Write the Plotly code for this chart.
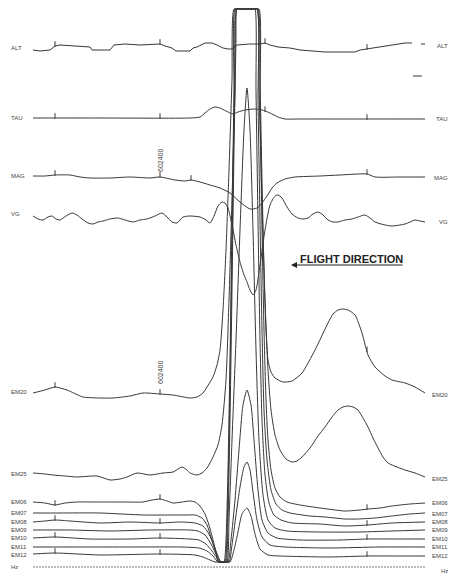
import numpy as np
import plotly.graph_objects as go

# ---------------- data (chart units) ----------------
alt_x = [33,40,50,53,55,60,75,90,92,110,114,125,140,160,165,172,176,190,193,197,205,212,217,223,228,233,235,237,250,260,265,270,278,290,300,310,325,340,355,360,367,380,395,405,412]
alt_y = [50,51,50,48,46,45,46,47,50,50,45,44,45,44,46,48,51,51,48,47,43,43,45,48,49,49,46,45,44,44,43,45,47,48,50,51,52,52,52,50,49,47,45,43,43]

tau_x = [33,100,190,200,205,210,215,220,226,233,238,245,255,262,270,278,285,300,360,425]
tau_y = [118,118,118,117,113,109,107,108,111,114,112,110,109,110,113,117,119,119,119,119]

mag_x = [33,45,55,70,80,90,110,130,150,160,175,185,191,200,210,220,230,240,250,257,262,267,272,277,285,295,320,340,367,375,400,425]
mag_y = [176,176,175,175,177,178,178,177,178,177,180,181,180,182,185,188,193,202,209,208,203,196,188,183,179,177,176,175,174,177,177,177]

vg_x = [33,38,43,48,52,56,60,66,72,77,82,88,93,98,103,110,118,125,133,140,147,155,162,167,172,177,183,190,200,206,210,214,218,222,225,228,232,236,240,244,247,250,253,256,260,265,270,275,278,282,287,292,298,303,308,313,318,323,328,333,338,345,352,358,365,370,375,385,392,400,405,410,415,420,425]
vg_y = [216,219,220,217,216,219,220,216,213,215,219,223,224,222,221,219,218,220,222,220,219,216,213,217,222,223,217,216,217,220,223,216,206,202,203,208,225,245,262,275,282,290,295,290,265,230,205,196,195,198,207,214,218,219,218,214,212,215,220,222,222,220,219,217,215,218,222,225,226,225,224,222,220,221,222]

em20_x = [33,45,55,67,83,100,113,130,143,160,173,190,197,203,207,213,217,220,223,226,229,232,234,238,242,246,250,254,258,260,262,264,266,268,271,275,283,292,302,315,328,333,338,343,348,355,362,368,375,385,392,405,415,425]
em20_y = [393,390,387,390,397,398,398,396,393,394,395,398,397,393,387,377,365,350,310,250,170,80,9,9,9,9,9,9,9,80,180,270,330,360,372,378,382,381,373,350,323,314,310,309,310,315,333,355,367,376,380,383,387,393]

em25_x = [33,45,53,65,77,97,110,120,127,137,150,163,173,182,187,190,197,202,207,213,218,222,226,229,232,235,237,241,245,249,253,257,259,262,265,268,271,275,280,286,292,297,302,310,318,325,332,338,343,348,353,358,363,368,373,378,383,388,397,405,415,425]
em25_y = [473,474,475,476,477,476,480,479,477,473,475,473,472,467,470,473,475,473,468,457,445,425,380,300,200,90,9,9,9,9,9,9,90,200,300,370,410,435,450,459,462,461,457,448,436,427,417,410,407,406,407,410,418,427,438,448,457,463,467,470,473,477]

em06_x = [33,45,55,65,77,95,110,125,143,152,160,167,173,182,190,195,200,205,209,213,216,218,221,224,226,228,230,232,234,235,239,243,247,251,255,259,260,262,264,266,268,271,275,280,287,300,320,345,360,368,380,392,410,425]
em06_y = [502,503,505,503,502,502,502,502,502,500,499,501,503,502,501,502,506,514,525,540,552,562,562,562,540,470,360,220,90,9,9,9,9,9,9,9,100,230,330,400,440,470,488,497,502,505,508,511,510,509,508,506,504,503]

em07_x = [33,60,100,143,170,187,195,202,207,211,215,219,222,225,227,229,231,233,235,236,240,244,248,252,257,258,260,262,264,267,271,276,282,290,310,325,345,358,375,392,410,425]
em07_y = [513,513,513,515,515,515,515,518,525,537,550,562,562,562,530,440,320,180,50,9,9,9,9,9,9,100,220,330,410,460,490,504,510,513,516,517,519,519,518,516,514,513]

em08_x = [33,45,55,70,100,130,160,180,195,203,209,214,218,221,224,226,228,230,232,234,236,237,241,245,249,253,255,256,258,260,262,265,269,274,281,292,320,345,368,392,425]
em08_y = [522,521,520,521,523,522,523,522,523,526,534,546,556,562,562,562,520,420,290,150,40,9,9,9,9,9,9,90,220,340,420,475,503,515,520,523,524,526,525,523,522]

em09_x = [33,70,110,150,190,198,205,211,216,220,224,227,229,232,236,240,244,247,250,253,256,259,263,268,275,287,320,360,392,425]
em09_y = [530,530,531,530,530,531,535,544,554,562,562,562,520,440,340,230,130,88,130,230,350,440,495,520,528,531,532,532,531,530]

em10_x = [33,55,90,130,160,190,199,206,212,217,221,225,228,231,235,239,243,247,251,254,258,262,268,277,300,340,368,400,425]
em10_y = [538,537,539,539,538,539,540,544,551,558,562,562,562,540,500,450,405,390,405,440,490,520,533,538,540,540,539,539,539]

em11_x = [33,80,130,180,199,207,213,218,223,229,232,236,240,244,247,250,253,257,262,270,285,330,380,425]
em11_y = [547,547,547,547,548,551,556,562,562,562,545,515,487,467,462,470,492,520,537,545,547,548,547,547]

em12_x = [33,55,100,160,195,203,210,215,220,225,230,234,238,242,247,251,255,260,268,280,330,368,400,425]
em12_y = [554,553,555,554,555,557,560,562,562,562,562,550,532,514,508,516,534,549,555,556,557,556,556,556]

hz_x = [33, 425]
hz_y = [567, 567]

fid_ticks = {
    "ALT": [55, 160, 265, 367],
    "TAU": [55, 160, 265, 367],
    "MAG": [55, 160, 191, 367],
    "EM20": [55, 160, 367],
    "EM06": [55, 160, 367],
    "EM08": [55, 160, 367],
    "EM10": [55, 160, 367],
    "EM12": [55, 160, 367],
}
fid_label = "602400"

left_labels = ["ALT", "TAU", "MAG", "VG", "EM20", "EM25", "EM06", "EM07", "EM08", "EM09", "EM10", "EM11", "EM12", "Hz"]
left_label_y = [48, 118, 176, 214, 392, 474, 502, 513, 522, 530, 538, 547, 555, 567]
right_labels = ["ALT", "TAU", "MAG", "VG", "EM20", "EM25", "EM06", "EM07", "EM08", "EM09", "EM10", "EM11", "EM12", "Hz"]
right_label_y = [46, 119, 178, 222, 395, 479, 503, 514, 522, 530, 539, 547, 556, 571]

# ---------------- figure ----------------
LINE = "#383838"
channels = {
    "ALT": (alt_x, alt_y, "linear"),
    "TAU": (tau_x, tau_y, "spline"),
    "MAG": (mag_x, mag_y, "spline"),
    "VG": (vg_x, vg_y, "spline"),
    "EM20": (em20_x, em20_y, "spline"),
    "EM25": (em25_x, em25_y, "spline"),
    "EM06": (em06_x, em06_y, "spline"),
    "EM07": (em07_x, em07_y, "spline"),
    "EM08": (em08_x, em08_y, "spline"),
    "EM09": (em09_x, em09_y, "spline"),
    "EM10": (em10_x, em10_y, "spline"),
    "EM11": (em11_x, em11_y, "spline"),
    "EM12": (em12_x, em12_y, "spline"),
}

fig = go.Figure()
for name, (xs, ys, shp) in channels.items():
    ln = dict(color=LINE, width=1, shape=shp)
    if shp == "spline":
        ln["smoothing"] = 0.6
    fig.add_trace(go.Scatter(x=xs, y=ys, mode="lines", line=ln, name=name,
                             hoverinfo="skip"))

fig.add_trace(go.Scatter(x=hz_x, y=hz_y, mode="lines",
                         line=dict(color="#777", width=1, dash="2px,1px"),
                         hoverinfo="skip"))

# fiducial ticks
tx, ty = [], []
for name, fids in fid_ticks.items():
    xs, ys, _ = channels[name]
    for f in fids:
        tx.append(f)
        ty.append(float(np.interp(f, xs, ys)) - 2)
fig.add_trace(go.Scatter(x=tx, y=ty, mode="markers",
                         marker=dict(symbol="line-ns", size=4,
                                     line=dict(color=LINE, width=1)),
                         hoverinfo="skip"))

ann = []
lab_font = dict(family="Liberation Sans, Arial", size=6, color="#444444")
for t, y in zip(left_labels, left_label_y):
    ann.append(dict(x=9, y=y, xref="x", yref="y", text=t, showarrow=False,
                    xanchor="left", yanchor="middle", font=lab_font))
for t, y in zip(right_labels, right_label_y):
    ann.append(dict(x=450, y=y, xref="x", yref="y", text=t, showarrow=False,
                    xanchor="right", yanchor="middle", font=lab_font))

# fiducial number labels (vertical)
for name, yc in (("MAG", 161), ("EM20", 373)):
    ann.append(dict(x=160, y=yc, xref="x", yref="y", text=fid_label,
                    showarrow=False, textangle=-90,
                    font=dict(family="Liberation Sans, Arial", size=7, color="#444444")))

# flight direction
ann.append(dict(x=351, y=259, xref="x", yref="y", text="<b>FLIGHT DIRECTION</b>",
                showarrow=False, font=dict(family="Liberation Sans, Arial", size=11, color="#222222")))
ann.append(dict(x=291, y=265, ax=404, ay=265, xref="x", yref="y", axref="x", ayref="y",
                text="", showarrow=True, arrowhead=2, arrowsize=1, arrowwidth=1.2,
                arrowcolor="#222222"))

shapes = [
    dict(type="line", x0=421, x1=425, y0=44, y1=44, xref="x", yref="y",
         line=dict(color=LINE, width=1)),
    dict(type="line", x0=413, x1=422, y0=76, y1=76, xref="x", yref="y",
         line=dict(color=LINE, width=1)),
]

fig.update_layout(
    width=451, height=574,
    margin=dict(l=0, r=0, t=0, b=0),
    paper_bgcolor="white", plot_bgcolor="white",
    showlegend=False,
    xaxis=dict(range=[0, 451], visible=False, fixedrange=True),
    yaxis=dict(range=[574, 0], visible=False, fixedrange=True),
    annotations=ann, shapes=shapes,
)

fig.write_html(
    "out.html",
    config={"displayModeBar": False, "staticPlot": True},
    post_script="document.body.style.margin='0';"
                "document.documentElement.style.overflow='hidden';"
                "document.body.style.overflow='hidden';",
)
